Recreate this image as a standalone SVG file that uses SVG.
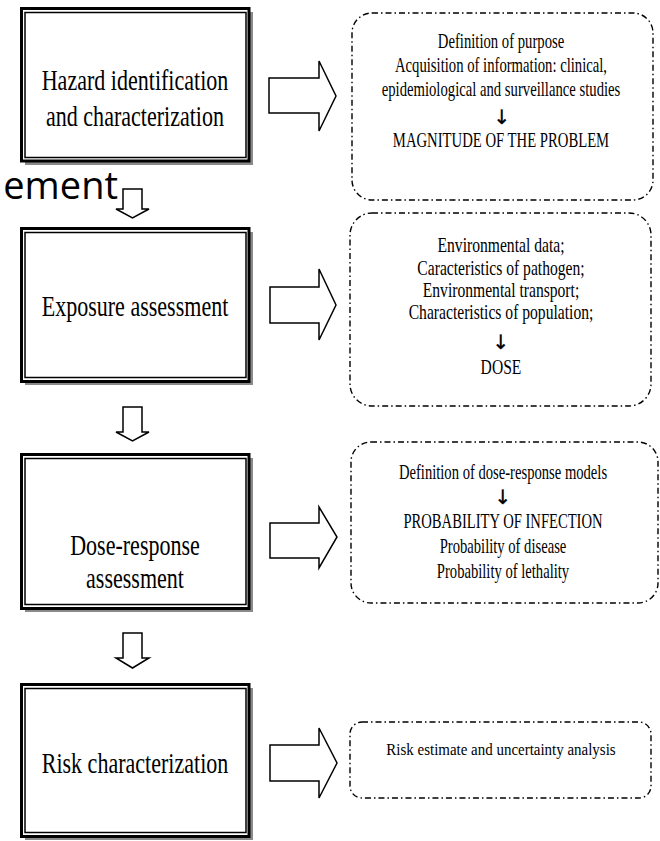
<svg xmlns="http://www.w3.org/2000/svg" width="660" height="841" viewBox="0 0 660 841">
<style>
.shadow{fill:#8a8a8a}
.outer{fill:#fff;stroke:#000;stroke-width:3}
.inner{fill:none;stroke:#000;stroke-width:1.5}
.box{fill:none;stroke:#000;stroke-width:1.4;stroke-dasharray:6 3 1.5 3}
.arr{fill:#fff;stroke:#000;stroke-width:1.5;stroke-linejoin:miter}
.nt{font-family:"Liberation Serif","Times New Roman",serif;font-size:29px;text-anchor:middle;fill:#000}
.bt{font-family:"Liberation Serif","Times New Roman",serif;text-anchor:middle;fill:#000}
.da{font-family:"DejaVu Sans","DejaVu Serif",sans-serif;font-size:20px;text-anchor:middle;fill:#000;stroke:#000;stroke-width:0.3}
.stray{font-family:"Open Sans",sans-serif;font-size:38px;text-anchor:end;fill:#000}
</style>
<rect width="660" height="841" fill="#fff"/>
<text class="stray" x="118" y="199">ement</text>
<g id="connectors">
<path class="arr" d="M123,189 L142,189 L142,209 L149,209 L132.5,218 L116,209 L123,209 Z"/>
<path class="arr" d="M123,407 L142,407 L142,432 L149,432 L132.5,441 L116,432 L123,432 Z"/>
<path class="arr" d="M123,633 L142,633 L142,658 L149,658 L132.5,668 L116,658 L123,658 Z"/>
<path class="arr" d="M269,78 L319,78 L319,61 L336,96 L319,131 L319,113 L269,113 Z"/>
<path class="arr" d="M270,287 L319,287 L319,269 L336,305 L319,340 L319,323 L270,323 Z"/>
<path class="arr" d="M270,523 L319,523 L319,507 L337,537 L319,568 L319,558 L270,558 Z"/>
<path class="arr" d="M270,745 L319,745 L319,728 L337,763 L319,798 L319,781 L270,781 Z"/>
</g>
<g id="node-hazard">
<rect class="shadow" x="25" y="12" width="228" height="153"/>
<rect class="outer" x="21.5" y="8.5" width="227.5" height="152.5"/>
<rect class="inner" x="25" y="12.5" width="221" height="145"/>
<g transform="translate(135 0) scale(0.76 1)">
<text class="nt" x="0" y="90">Hazard identification</text>
<text class="nt" x="0" y="126">and characterization</text>
</g>
</g>
<g id="node-exposure">
<rect class="shadow" x="25" y="232" width="228" height="153"/>
<rect class="outer" x="21.5" y="228.5" width="227.5" height="153"/>
<rect class="inner" x="25" y="232.5" width="221" height="145"/>
<g transform="translate(135 0) scale(0.76 1)">
<text class="nt" x="0" y="316">Exposure assessment</text>
</g>
</g>
<g id="node-dose">
<rect class="shadow" x="25" y="458" width="228" height="154"/>
<rect class="outer" x="21.5" y="454.5" width="227.5" height="154"/>
<rect class="inner" x="25" y="458.5" width="221" height="146"/>
<g transform="translate(135 0) scale(0.76 1)">
<text class="nt" x="0" y="555">Dose-response</text>
<text class="nt" x="0" y="588">assessment</text>
</g>
</g>
<g id="node-risk">
<rect class="shadow" x="25" y="688" width="228" height="152"/>
<rect class="outer" x="21.5" y="684.5" width="227.5" height="152"/>
<rect class="inner" x="25" y="688.5" width="221" height="144"/>
<g transform="translate(135 0) scale(0.76 1)">
<text class="nt" x="0" y="773">Risk characterization</text>
</g>
</g>
<g id="box-hazard">
<rect class="box" x="352" y="13" width="301" height="187" rx="20" ry="20"/>
<g transform="translate(501 0) scale(0.7 1)" style="font-size:21px">
<text class="bt" x="0" y="48">Definition of purpose</text>
<text class="bt" x="0" y="72">Acquisition of information: clinical,</text>
<text class="bt" x="0" y="96">epidemiological and surveillance studies</text>
<text class="bt" x="0" y="147">MAGNITUDE OF THE PROBLEM</text>
</g>
<text class="da" x="502" y="124">↓</text>
</g>
<g id="box-exposure">
<rect class="box" x="350" y="213" width="301" height="193" rx="22" ry="22"/>
<g transform="translate(501 0) scale(0.71 1)" style="font-size:22px">
<text class="bt" x="0" y="252">Environmental data;</text>
<text class="bt" x="0" y="275">Caracteristics of pathogen;</text>
<text class="bt" x="0" y="297">Environmental transport;</text>
<text class="bt" x="0" y="319">Characteristics of population;</text>
<text class="bt" x="0" y="374">DOSE</text>
</g>
<text class="da" x="501" y="349">↓</text>
</g>
<g id="box-dose">
<rect class="box" x="351" y="442" width="307" height="161" rx="20" ry="20"/>
<g transform="translate(503 0) scale(0.68 1)" style="font-size:21.5px">
<text class="bt" x="0" y="479">Definition of dose-response models</text>
<text class="bt" x="0" y="528">PROBABILITY OF INFECTION</text>
<text class="bt" x="0" y="553">Probability of disease</text>
<text class="bt" x="0" y="578">Probability of lethality</text>
</g>
<text class="da" x="503" y="504">↓</text>
</g>
<g id="box-risk">
<rect class="box" x="350" y="722" width="301" height="76" rx="12" ry="12"/>
<g transform="translate(501 0) scale(0.85 1)" style="font-size:17.6px">
<text class="bt" x="0" y="755">Risk estimate and uncertainty analysis</text>
</g>
</g>
</svg>
